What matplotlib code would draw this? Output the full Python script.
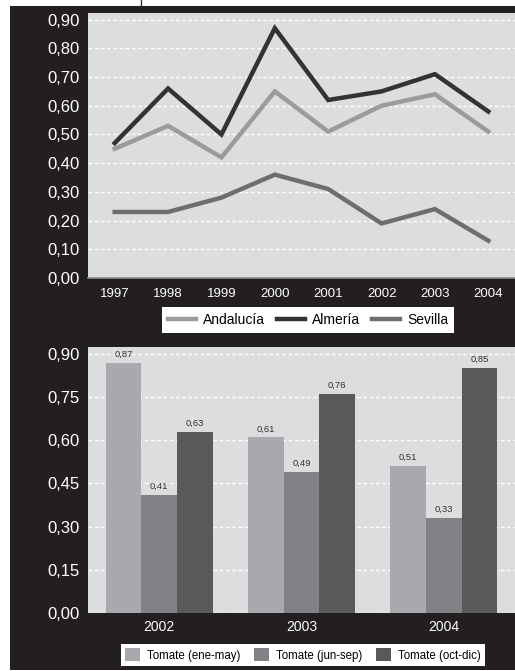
import matplotlib.pyplot as plt
from matplotlib.patches import Rectangle, Patch
from matplotlib.lines import Line2D
import numpy as np

plt.rcParams['font.family'] = ['Liberation Sans', 'DejaVu Sans']

# top chart data
years = ['1997', '1998', '1999', '2000', '2001', '2002', '2003', '2004']
andalucia = [0.45, 0.53, 0.42, 0.65, 0.51, 0.60, 0.64, 0.51]
almeria = [0.47, 0.66, 0.50, 0.87, 0.62, 0.65, 0.71, 0.58]
sevilla = [0.23, 0.23, 0.28, 0.36, 0.31, 0.19, 0.24, 0.13]

# bottom chart data
barYears = ['2002', '2003', '2004']
eneMay = [0.87, 0.61, 0.51]
junSep = [0.41, 0.49, 0.33]
octDic = [0.63, 0.76, 0.85]

panelColor = '#231f20'
axBg = '#dcdddf'
lineColors = {'Andalucía': '#9a9b9d', 'Almería': '#333333', 'Sevilla': '#6d6e70'}
barColors = ['#a7a9ac', '#808285', '#58595b']

W, H = 515, 671
fig = plt.figure(figsize=(W / 100, H / 100), dpi=100, facecolor='white')

# black panel behind everything
fig.patches.append(Rectangle((10 / W, 1 - 670 / H), 1 - 10 / W, (670 - 6) / H,
                             transform=fig.transFigure, facecolor=panelColor,
                             edgecolor='none', zorder=-10))
# small page mark at top
fig.add_artist(Line2D([141 / W, 141 / W], [1 - 6 / H, 1.0], transform=fig.transFigure,
                      color='#333333', lw=1, zorder=-10))
fig.add_artist(Line2D([10 / W, 1.0], [1 - 5.5 / H, 1 - 5.5 / H], transform=fig.transFigure,
                      color='#888888', lw=0.8, zorder=-10))


def styleAxes(ax):
    ax.set_facecolor(axBg)
    for s in ax.spines.values():
        s.set_visible(False)
    ax.tick_params(length=0, colors='white')
    ax.yaxis.grid(True, color='white', linestyle=(0, (2.5, 2)), linewidth=1)
    ax.set_axisbelow(True)


# ---- top line chart ----
ax1 = fig.add_axes([88 / W, 1 - 278 / H, 1 - 88 / W, (278 - 13) / H])
styleAxes(ax1)
ax1.spines['bottom'].set_visible(True)
ax1.spines['bottom'].set_color('#8a8a8a')
ax1.spines['bottom'].set_linewidth(1.2)
x = np.arange(len(years))
for name, vals in [('Andalucía', andalucia), ('Almería', almeria), ('Sevilla', sevilla)]:
    ax1.plot(x, vals, color=lineColors[name], lw=3.2, label=name, solid_joinstyle='miter')
ax1.set_xlim(-0.5, 7.5)
ax1.set_ylim(0, 0.923)
ax1.set_yticks(np.arange(0, 0.91, 0.1))
ax1.set_yticklabels([f'{v:.2f}'.replace('.', ',') for v in np.arange(0, 0.91, 0.1)], fontsize=12)
ax1.set_xticks(x)
ax1.set_xticklabels(years, fontsize=9.5)
ax1.tick_params(axis='y', pad=6)
ax1.tick_params(axis='x', pad=7)
leg1 = ax1.legend(loc='center', bbox_to_anchor=(308 / W, 1 - 320 / H), bbox_transform=fig.transFigure,
                  ncol=3, fontsize=10, frameon=True, fancybox=False, framealpha=1,
                  handlelength=2.0, handletextpad=0.5, columnspacing=0.9, borderpad=0.4)
leg1.get_frame().set_facecolor('white')
leg1.get_frame().set_edgecolor('none')
leg1.get_frame().set_linewidth(0)

# ---- bottom bar chart ----
ax2 = fig.add_axes([88 / W, 1 - 613 / H, 1 - 88 / W, (613 - 347) / H])
styleAxes(ax2)
bx = np.arange(len(barYears))
bw = 0.25
series = [('Tomate (ene-may)', eneMay), ('Tomate (jun-sep)', junSep), ('Tomate (oct-dic)', octDic)]
for i, (name, vals) in enumerate(series):
    bars = ax2.bar(bx + (i - 1) * bw, vals, bw, color=barColors[i], label=name, zorder=2)
    for b, v in zip(bars, vals):
        ax2.text(b.get_x() + b.get_width() / 2, v + 0.014, f'{v:.2f}'.replace('.', ','),
                 ha='center', va='bottom', fontsize=6.8, color='#333333')
ax2.set_xlim(-0.5, 2.5)
ax2.set_ylim(0, 0.924)
yt = np.arange(0, 0.91, 0.15)
ax2.set_yticks(yt)
ax2.set_yticklabels([f'{v:.2f}'.replace('.', ',') for v in yt], fontsize=12)
ax2.set_xticks(bx)
ax2.set_xticklabels(barYears, fontsize=10)
ax2.tick_params(axis='y', pad=6)
ax2.tick_params(axis='x', pad=5)
handles = [Patch(facecolor=c, edgecolor='none') for c in barColors]
leg2 = ax2.legend(handles, [s[0] for s in series], loc='center',
                  bbox_to_anchor=(303 / W, 1 - 655 / H), bbox_transform=fig.transFigure,
                  ncol=3, fontsize=8.3, frameon=True, fancybox=False, framealpha=1,
                  handlelength=1.3, handleheight=1.3, handletextpad=0.6, columnspacing=1.2,
                  borderpad=0.4)
leg2.get_frame().set_facecolor('white')
leg2.get_frame().set_edgecolor('none')
leg2.get_frame().set_linewidth(0)

fig.savefig('out.png', dpi=100, facecolor='white')
